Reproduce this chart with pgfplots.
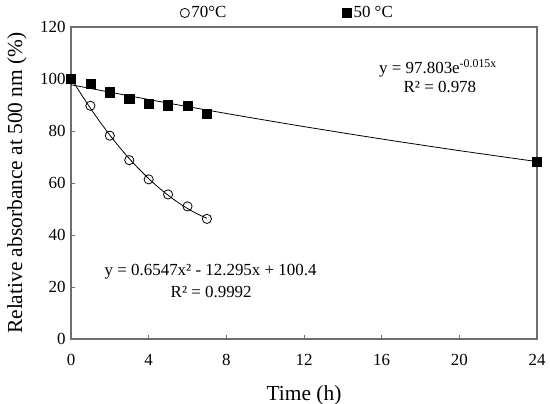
\documentclass[border=0pt]{standalone}
\usepackage{fontspec}
\setmainfont{Liberation Serif}
\usepackage{pgfplots}
\pgfplotsset{compat=1.18}
\definecolor{framegray}{RGB}{110,110,110}
\begin{document}
\begin{tikzpicture}
\useasboundingbox (-71bp,-65bp) rectangle (479bp,339bp);
\begin{axis}[
  at={(0,0)}, anchor=south west,
  scale only axis, width=466bp, height=312bp,
  xmin=0, xmax=24, ymin=0, ymax=120,
  xtick={0,4,...,24}, ytick={0,20,...,120},
  xtick pos=bottom, ytick pos=left,
  tick align=inside, major tick length=4bp,
  axis line style={draw=framegray, line width=1.1bp},
  tick style={draw=framegray, line width=0.8bp},
  /pgf/number format/assume math mode=true,
  ticklabel style={font=\fontsize{17}{17}\selectfont},
  xticklabel shift=12bp,
  yticklabel shift=2bp,
  xlabel={Time (h)},
  ylabel={Relative absorbance at 500 nm (\%)},
  every axis x label/.style={at={(axis description cs:0.5,-0.18)}, anchor=center, font=\fontsize{21.5}{24}\selectfont},
  every axis y label/.style={at={(axis description cs:-0.116,0.5)}, anchor=center, rotate=90, font=\fontsize{21.5}{24}\selectfont},
  clip=false,
  legend columns=2,
  legend style={draw=none, fill=none, at={(axis description cs:0.4646,1.045)}, anchor=center,
    font=\fontsize{17}{19}\selectfont, /tikz/every even column/.append style={column sep=114bp}},
  legend image code/.code={\draw[mark repeat=2,mark phase=2] plot coordinates {(0bp,0bp)(4bp,0bp)(13bp,0bp)};},
]
\draw[framegray, line width=1.1bp] (rel axis cs:0,0) rectangle (rel axis cs:1,1);
% polynomial trendline (70 C)
\addplot[black, line width=0.8bp, smooth, forget plot] coordinates {
(0,100.40) (0.5,94.42) (1,88.76) (1.5,83.43) (2,78.43) (2.5,73.75) (3,69.41) (3.5,65.39)
(4,61.70) (4.5,58.33) (5,55.29) (5.5,52.58) (6,50.20) (6.5,48.14) (7,46.42)};
% exponential trendline (50 C)
\addplot[black, line width=0.8bp, smooth, forget plot] coordinates {
(0,97.80) (4,92.11) (8,86.74) (12,81.69) (16,76.93) (20,72.45) (24,68.24)};
\addplot[only marks, mark=o, mark size=4.6bp, mark options={draw=black, fill=white, line width=0.8bp}] coordinates {
(0,100) (1,89.7) (2,78.2) (3,68.8) (4,61.4) (5,55.6) (6,51.0) (7,46.2)};
\addlegendentry{70°C}
\addplot[only marks, mark=square*, mark size=4.6bp, mark options={draw=black, fill=black}] coordinates {
(0,100) (1,98.1) (2,94.9) (3,92.4) (4,90.4) (5,89.9) (6,89.8) (7,86.5) (24,68.2)};
\addlegendentry{50 °C}
\node[font=\fontsize{17}{19}\selectfont, anchor=center] at (axis cs:18.9,104.2) {y = 97.803e\textsuperscript{-0.015x}};
\node[font=\fontsize{17}{19}\selectfont, anchor=center] at (axis cs:19.0,96.9) {R² = 0.978};
\node[font=\fontsize{17}{19}\selectfont, anchor=center] at (axis cs:7.19,25.8) {y = 0.6547x² - 12.295x + 100.4};
\node[font=\fontsize{17}{19}\selectfont, anchor=center] at (axis cs:7.22,18.1) {R² = 0.9992};
\end{axis}
\end{tikzpicture}
\end{document}
